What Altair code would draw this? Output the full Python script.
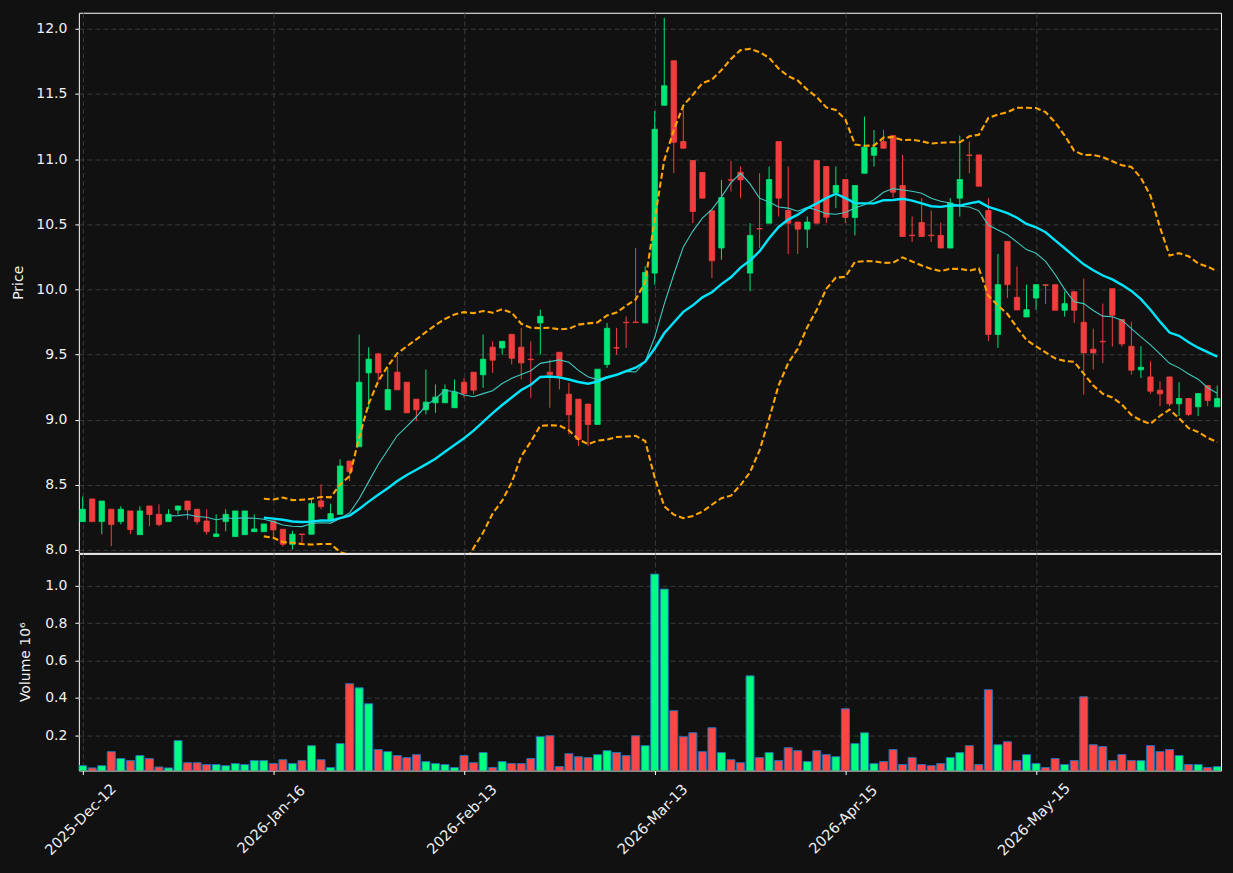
import altair as alt
import pandas as pd

# ---- data (trading-day index 0..119) ----
open_ = [8.217, 8.391, 8.217, 8.312, 8.217, 8.299, 8.117, 8.337, 8.273, 8.217,
         8.306, 8.375, 8.312, 8.222, 8.102, 8.217, 8.102, 8.117, 8.140, 8.140,
         8.222, 8.158, 8.043, 8.122, 8.120, 8.376, 8.230, 8.273, 8.682, 8.792,
         9.359, 9.505, 9.075, 9.364, 9.287, 9.157, 9.075, 9.129, 9.129, 9.091,
         9.287, 9.364, 9.344, 9.556, 9.550, 9.655, 9.556, 9.464, 9.742, 9.364,
         9.517, 9.195, 9.157, 9.119, 8.963, 9.423, 9.553, 9.747, 9.749, 9.742,
         10.125, 11.413, 11.755, 11.134, 10.989, 10.897, 10.603, 10.317, 10.842, 10.899,
         10.125, 10.467, 10.508, 11.134, 10.605, 10.516, 10.462, 10.989, 10.943, 10.741,
         10.843, 10.552, 10.891, 11.029, 11.134, 11.180, 10.797, 10.416, 10.513, 10.416,
         10.414, 10.317, 10.700, 11.032, 11.032, 10.605, 9.653, 10.368, 9.939, 9.788,
         9.933, 10.036, 10.036, 9.839, 9.982, 9.747, 9.540, 9.601, 10.005, 9.768,
         9.563, 9.382, 9.328, 9.226, 9.328, 9.121, 9.162, 9.098, 9.262, 9.098]
high = [8.409, 8.391, 8.375, 8.312, 8.335, 8.299, 8.335, 8.337, 8.350, 8.312,
        8.337, 8.375, 8.312, 8.312, 8.273, 8.312, 8.299, 8.299, 8.273, 8.199,
        8.222, 8.158, 8.146, 8.122, 8.385, 8.503, 8.355, 8.695, 8.682, 9.653,
        9.556, 9.512, 9.397, 9.487, 9.287, 9.157, 9.384, 9.270, 9.270, 9.308,
        9.320, 9.364, 9.653, 9.601, 9.601, 9.655, 9.704, 9.601, 9.844, 9.461,
        9.517, 9.282, 9.157, 9.119, 9.387, 9.742, 9.704, 9.793, 10.317, 10.176,
        11.369, 12.084, 11.755, 11.415, 10.989, 10.897, 10.603, 10.840, 10.986, 10.943,
        10.508, 10.892, 10.943, 11.134, 10.943, 10.516, 10.559, 10.989, 10.943, 10.943,
        10.843, 10.797, 11.326, 11.224, 11.224, 11.180, 11.032, 10.559, 10.700, 10.605,
        10.513, 10.700, 11.180, 11.134, 11.032, 10.700, 10.271, 10.368, 10.176, 10.036,
        10.036, 10.036, 10.036, 9.985, 9.982, 10.082, 9.699, 9.890, 10.005, 9.768,
        9.750, 9.563, 9.448, 9.295, 9.328, 9.287, 9.162, 9.200, 9.262, 9.262]
low = [8.217, 8.217, 8.120, 8.028, 8.197, 8.120, 8.117, 8.181, 8.181, 8.217,
       8.273, 8.232, 8.194, 8.117, 8.102, 8.143, 8.102, 8.117, 8.140, 8.140,
       8.082, 8.025, 8.002, 8.043, 8.120, 8.312, 8.230, 8.273, 8.529, 8.792,
       9.083, 9.295, 9.075, 9.229, 9.052, 8.989, 9.040, 9.052, 9.129, 9.091,
       9.167, 9.193, 9.244, 9.359, 9.499, 9.423, 9.308, 9.167, 9.499, 9.091,
       9.231, 8.886, 8.797, 8.797, 8.963, 9.397, 9.499, 9.550, 9.744, 9.742,
       10.036, 11.413, 10.892, 11.083, 10.508, 10.700, 10.087, 10.227, 10.751, 10.700,
       9.985, 10.317, 10.508, 10.559, 10.271, 10.271, 10.317, 10.508, 10.508, 10.623,
       10.508, 10.414, 10.891, 10.943, 11.083, 10.705, 10.406, 10.363, 10.406, 10.363,
       10.317, 10.317, 10.559, 10.891, 10.792, 9.602, 9.551, 9.934, 9.842, 9.788,
       9.844, 9.888, 9.839, 9.790, 9.742, 9.193, 9.384, 9.435, 9.561, 9.561,
       9.346, 9.320, 9.198, 9.103, 9.103, 9.027, 9.027, 9.027, 9.103, 9.098]
close = [8.312, 8.217, 8.375, 8.194, 8.312, 8.156, 8.299, 8.271, 8.194, 8.273,
         8.337, 8.306, 8.217, 8.140, 8.122, 8.273, 8.299, 8.299, 8.161, 8.199,
         8.153, 8.043, 8.120, 8.118, 8.355, 8.332, 8.278, 8.644, 8.600, 9.287,
         9.464, 9.359, 9.231, 9.229, 9.052, 9.075, 9.134, 9.172, 9.231, 9.211,
         9.200, 9.226, 9.464, 9.456, 9.601, 9.471, 9.435, 9.460, 9.793, 9.346,
         9.333, 9.037, 8.848, 8.963, 9.387, 9.701, 9.549, 9.744, 9.745, 10.130,
         11.229, 11.563, 11.129, 11.083, 10.598, 10.700, 10.220, 10.705, 10.838, 10.840,
         10.414, 10.463, 10.843, 10.700, 10.508, 10.462, 10.516, 10.508, 10.554, 10.797,
         10.552, 10.797, 11.091, 11.088, 11.083, 10.746, 10.406, 10.412, 10.406, 10.412,
         10.317, 10.662, 10.843, 11.028, 10.792, 9.653, 10.036, 10.036, 9.842, 9.844,
         10.036, 10.030, 9.839, 9.890, 9.839, 9.512, 9.512, 9.597, 9.801, 9.581,
         9.379, 9.402, 9.218, 9.198, 9.121, 9.162, 9.040, 9.200, 9.147, 9.162]
volume_m = [0.038, 0.026, 0.038, 0.113, 0.076, 0.065, 0.092, 0.076, 0.031, 0.026,
            0.172, 0.054, 0.054, 0.044, 0.044, 0.038, 0.049, 0.044, 0.065, 0.065,
            0.049, 0.070, 0.049, 0.065, 0.145, 0.070, 0.028, 0.156, 0.476, 0.454,
            0.369, 0.124, 0.113, 0.092, 0.081, 0.097, 0.060, 0.049, 0.044, 0.028,
            0.092, 0.054, 0.108, 0.028, 0.060, 0.049, 0.049, 0.076, 0.193, 0.198,
            0.033, 0.102, 0.086, 0.081, 0.097, 0.118, 0.108, 0.092, 0.198, 0.145,
            1.062, 0.982, 0.332, 0.193, 0.214, 0.113, 0.241, 0.108, 0.070, 0.054,
            0.518, 0.081, 0.108, 0.065, 0.134, 0.118, 0.060, 0.118, 0.097, 0.086,
            0.342, 0.156, 0.214, 0.049, 0.060, 0.124, 0.044, 0.081, 0.044, 0.038,
            0.049, 0.081, 0.108, 0.145, 0.044, 0.444, 0.150, 0.166, 0.065, 0.097,
            0.049, 0.028, 0.076, 0.044, 0.065, 0.406, 0.150, 0.140, 0.065, 0.097,
            0.065, 0.065, 0.145, 0.113, 0.124, 0.092, 0.044, 0.044, 0.028, 0.033]
tick_pos = [0, 20, 40, 60, 80, 100]
tick_labels = ["2025-Dec-12", "2026-Jan-16", "2026-Feb-13",
               "2026-Mar-13", "2026-Apr-15", "2026-May-15"]
price_ticks = [8.0, 8.5, 9.0, 9.5, 10.0, 10.5, 11.0, 11.5, 12.0]
vol_ticks = [0.2, 0.4, 0.6, 0.8, 1.0]

df = pd.DataFrame({"i": list(range(len(close))), "open": open_, "high": high,
                   "low": low, "close": close, "vol": volume_m})

BG = "#111111"
UP, DOWN = "#00e676", "#f03e3e"
VUP, VDOWN = "#00ff80", "#ff4646"
FONT = "DejaVu Sans"

xscale = alt.Scale(domain=[-0.4, 119.4], nice=False, zero=False)
pscale = alt.Scale(domain=[7.977, 12.123], nice=False, zero=False)
vscale = alt.Scale(domain=[0.012, 1.17], nice=False, zero=False)

up_cond = "datum.close >= datum.open"
ccol = alt.condition(up_cond, alt.value(UP), alt.value(DOWN))
vcol = alt.condition(up_cond, alt.value(VUP), alt.value(VDOWN))

x_price_axis = alt.Axis(values=tick_pos, labels=False, ticks=False, domain=False,
                        grid=True, title=None, minExtent=0, maxExtent=0,
                        labelPadding=0, offset=0)
label_expr = f"{tick_labels}[indexof({tick_pos}, datum.value)]"
x_vol_axis = alt.Axis(values=tick_pos, labelExpr=label_expr, labelAngle=-45,
                      labelAlign="center", labelBaseline="middle", labelPadding=45,
                      labelOffset=-2, labelFontSize=14.5,
                      labelFlush=False, labelOverlap=False, labelBound=False,
                      tickSize=4, domain=False, grid=True, title=None)
y_price_axis = alt.Axis(values=price_ticks, format=".1f", title="Price",
                        titleX=-60, titleY=270, titleBaseline="middle",
                        titleAlign="center", domain=False, tickSize=4,
                        labelPadding=8, labelOverlap=False)
y_vol_axis = alt.Axis(values=vol_ticks, format=".1f", title="Volume  10⁶",
                      titleX=-53, titleY=108, titleBaseline="middle",
                      titleAlign="center", domain=False, tickSize=4,
                      labelPadding=8, labelOverlap=False)

base = alt.Chart(df).transform_calculate(
    b0="datum.i - 0.28", b1="datum.i + 0.28",
    v0="datum.i - 0.42", v1="datum.i + 0.42")

wicks = base.mark_rule(strokeWidth=1, clip=True).encode(
    x=alt.X("i:Q", scale=xscale, axis=x_price_axis),
    y=alt.Y("low:Q", scale=pscale, axis=y_price_axis),
    y2="high:Q", color=ccol)

bodies = base.mark_bar(clip=True, strokeWidth=0.8).encode(
    x=alt.X("b0:Q", scale=xscale, axis=x_price_axis), x2="b1:Q",
    y=alt.Y("open:Q", scale=pscale, axis=y_price_axis), y2="close:Q",
    color=ccol, stroke=ccol)

ma10 = base.transform_window(
    ma10="mean(close)", frame=[-9, 0], sort=[alt.SortField("i")]
).transform_filter("datum.i >= 9").mark_line(
    color="#3fc9c0", strokeWidth=1.1, clip=True).encode(
    x=alt.X("i:Q", scale=xscale, axis=x_price_axis),
    y=alt.Y("ma10:Q", scale=pscale, axis=y_price_axis))

boll = base.transform_window(
    ma20="mean(close)", sd20="stdev(close)", frame=[-19, 0], sort=[alt.SortField("i")]
).transform_filter("datum.i >= 19").transform_calculate(
    upper="datum.ma20 + 2 * datum.sd20", lower="datum.ma20 - 2 * datum.sd20")

ma20 = boll.mark_line(color="#00e5ff", strokeWidth=2.4, clip=True).encode(
    x=alt.X("i:Q", scale=xscale, axis=x_price_axis),
    y=alt.Y("ma20:Q", scale=pscale, axis=y_price_axis))
upper = boll.mark_line(color="#ffa500", strokeWidth=2.1, strokeDash=[6, 3],
                       clip=True).encode(
    x=alt.X("i:Q", scale=xscale, axis=x_price_axis),
    y=alt.Y("upper:Q", scale=pscale, axis=y_price_axis))
lower = boll.mark_line(color="#ffa500", strokeWidth=2.1, strokeDash=[6, 3],
                       clip=True).encode(
    x=alt.X("i:Q", scale=xscale, axis=x_price_axis),
    y=alt.Y("lower:Q", scale=pscale, axis=y_price_axis))

price = alt.layer(wicks, bodies, upper, lower, ma10, ma20).properties(
    width=1144, height=541)

vol = base.mark_bar(clip=True, stroke="#2470b0", strokeWidth=1).encode(
    x=alt.X("v0:Q", scale=xscale, axis=x_vol_axis), x2="v1:Q",
    y=alt.Y("vol:Q", scale=vscale, axis=y_vol_axis), y2=alt.datum(0),
    color=vcol).properties(width=1144, height=217)

chart = alt.vconcat(price, vol, spacing=1, bounds="flush").properties(
    background=BG,
    padding={"left": 11, "top": 11, "right": 11, "bottom": 103},
).configure_view(
    fill=BG, stroke="white", strokeWidth=1
).configure_axis(
    labelFont=FONT, labelFontSize=14, labelColor="#f0f0f0",
    titleFont=FONT, titleFontSize=14, titleColor="#f0f0f0", titleFontWeight="normal",
    tickColor="white", tickWidth=1,
    gridColor="#3a3a3a", gridDash=[5, 3], gridWidth=1
)

chart.save("out.html", embed_options={"renderer": "svg", "actions": False})
